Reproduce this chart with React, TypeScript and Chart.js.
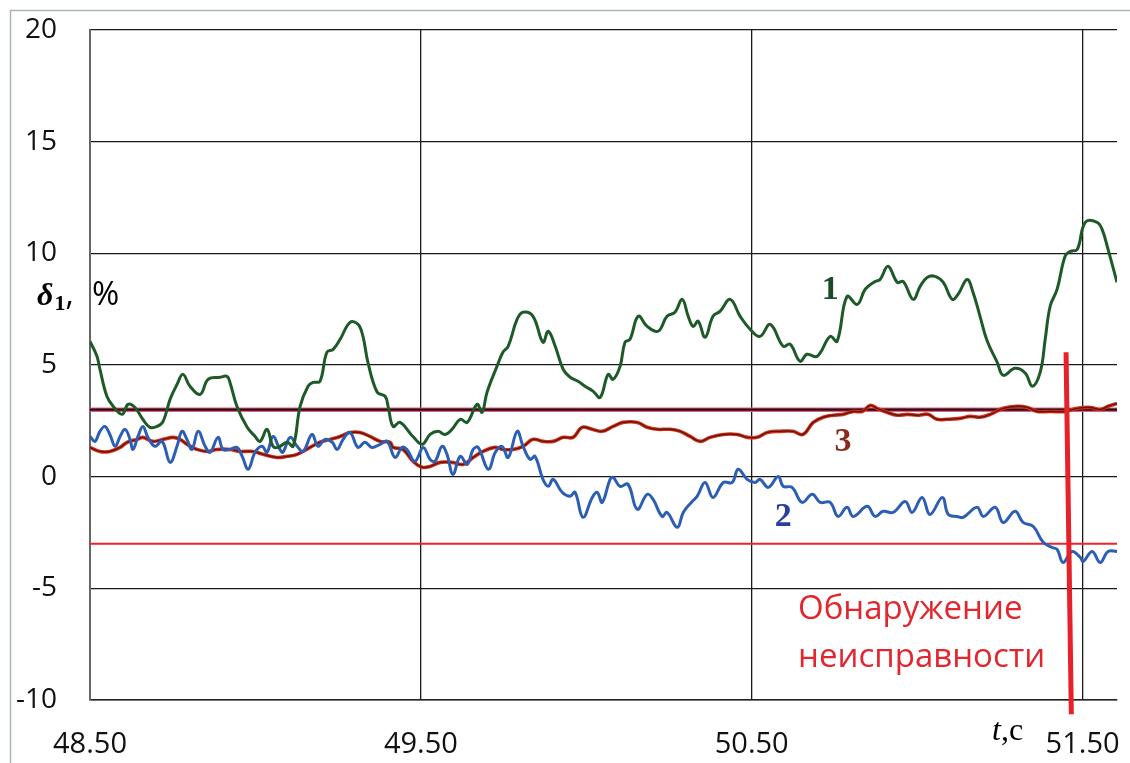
import React, { useEffect, useRef } from "react";
import { Chart, registerables } from "chart.js";
Chart.register(...registerables);

// ---- axes ----
const xMin = 48.5;
const xMax = 51.604;
const yMin = -10;
const yMax = 20;
const yStep = 5;
const xTickValues = [48.5, 49.5, 50.5, 51.5];

// ---- series 1 (green) ----
const s1T = [48.500,48.521,48.530,48.551,48.570,48.597,48.615,48.636,48.660,48.681,48.703,48.721,48.742,48.763,48.781,48.802,48.833,48.857,48.893,48.914,48.923,48.944,48.975,48.999,49.014,49.035,49.053,49.068,49.096,49.114,49.135,49.159,49.174,49.195,49.216,49.235,49.256,49.286,49.310,49.325,49.340,49.368,49.392,49.401,49.416,49.437,49.476,49.504,49.528,49.552,49.573,49.594,49.619,49.640,49.670,49.685,49.700,49.730,49.748,49.764,49.791,49.809,49.839,49.869,49.885,49.906,49.930,49.951,49.975,49.996,50.021,50.042,50.066,50.081,50.102,50.117,50.132,50.157,50.184,50.217,50.244,50.268,50.290,50.308,50.323,50.338,50.359,50.383,50.404,50.435,50.465,50.495,50.525,50.556,50.595,50.616,50.646,50.667,50.698,50.737,50.758,50.788,50.819,50.843,50.873,50.888,50.912,50.940,50.958,50.988,51.009,51.030,51.054,51.079,51.106,51.124,51.151,51.169,51.190,51.212,51.242,51.260,51.296,51.327,51.348,51.372,51.387,51.402,51.423,51.447,51.463,51.484,51.508,51.544,51.559,51.577,51.604];
const s1V = [6.06,5.39,4.81,3.60,3.15,2.79,3.24,3.10,2.56,2.21,2.25,2.48,3.46,4.13,4.58,4.05,3.69,4.36,4.45,4.49,4.22,3.15,2.21,1.80,1.58,2.12,1.36,1.31,1.54,1.36,3.15,4.05,4.22,4.27,5.57,5.70,6.15,6.91,6.82,6.28,5.12,3.78,3.60,3.15,2.25,2.43,1.80,1.45,1.89,2.03,1.89,2.12,2.57,2.43,3.24,2.88,3.78,4.94,5.57,5.84,7.05,7.36,7.18,6.02,6.51,5.84,4.81,4.45,4.27,4.05,3.82,3.55,4.58,4.36,4.94,6.02,6.15,7.18,6.73,6.51,7.18,7.36,7.94,7.18,6.73,6.96,6.24,7.18,7.40,7.94,7.18,6.60,6.28,6.82,5.84,5.93,5.17,5.48,5.39,6.28,6.06,8.07,7.71,8.39,8.74,8.83,9.42,8.70,8.74,7.94,8.52,8.92,8.97,8.70,7.94,8.17,8.83,8.25,7.18,6.06,5.12,4.54,4.85,4.63,4.05,4.68,6.15,7.63,8.39,9.87,10.09,10.18,11.39,11.39,11.07,10.18,8.70];

// ---- series 2 (blue) ----
const s2T = [48.500,48.515,48.530,48.545,48.560,48.576,48.591,48.606,48.621,48.630,48.645,48.660,48.675,48.696,48.718,48.742,48.763,48.778,48.793,48.808,48.827,48.848,48.863,48.887,48.902,48.923,48.944,48.960,48.978,48.999,49.020,49.035,49.053,49.074,49.083,49.105,49.126,49.144,49.171,49.189,49.210,49.232,49.247,49.265,49.286,49.310,49.331,49.352,49.377,49.398,49.422,49.443,49.458,49.482,49.507,49.528,49.543,49.564,49.579,49.597,49.619,49.640,49.658,49.673,49.704,49.725,49.745,49.764,49.791,49.809,49.830,49.845,49.869,49.885,49.900,49.927,49.951,49.966,49.990,50.018,50.033,50.048,50.072,50.081,50.102,50.126,50.154,50.184,50.202,50.229,50.244,50.275,50.293,50.320,50.335,50.359,50.383,50.414,50.441,50.459,50.486,50.510,50.525,50.550,50.580,50.595,50.622,50.652,50.683,50.707,50.737,50.761,50.788,50.807,50.849,50.873,50.897,50.927,50.964,50.985,51.015,51.039,51.076,51.094,51.121,51.139,51.181,51.200,51.236,51.260,51.296,51.320,51.351,51.381,51.408,51.423,51.441,51.468,51.493,51.502,51.529,51.553,51.577,51.604];
const s2V = [1.80,1.58,2.03,2.25,1.89,1.36,1.80,2.12,1.67,1.22,1.80,2.25,1.76,1.36,1.58,0.64,1.36,2.03,1.67,1.22,2.03,1.36,1.09,1.76,1.22,1.22,1.31,0.91,0.33,1.09,1.36,1.09,1.80,1.22,1.09,1.76,1.36,1.13,1.89,1.36,1.67,1.54,1.22,1.67,1.98,1.31,1.54,1.31,1.45,1.58,0.86,1.31,1.22,0.69,1.31,0.77,0.69,1.36,1.00,0.10,0.91,0.55,1.22,1.31,0.33,1.09,1.36,0.86,2.03,1.36,0.77,0.91,-0.12,-0.43,-0.12,-0.70,-0.88,-0.70,-1.82,-0.93,-0.70,-1.15,-0.12,-0.03,-0.43,-0.34,-1.46,-0.79,-1.02,-1.78,-1.60,-2.27,-1.60,-1.11,-0.88,-0.26,-0.93,-0.26,-0.26,0.33,-0.12,-0.26,-0.12,-0.48,0.01,-0.43,-0.48,-1.15,-0.79,-1.15,-1.15,-1.78,-1.37,-1.78,-1.33,-1.78,-1.55,-1.60,-1.11,-1.60,-0.93,-1.69,-0.93,-1.69,-1.78,-1.82,-1.37,-1.78,-1.37,-2.05,-1.55,-2.05,-2.23,-2.94,-3.17,-3.26,-3.84,-3.35,-3.61,-3.79,-3.35,-3.84,-3.35,-3.35];

// ---- series 3 (brown) ----
const s3T = [48.500,48.530,48.560,48.591,48.612,48.642,48.660,48.690,48.721,48.751,48.772,48.793,48.823,48.854,48.884,48.923,48.953,48.993,49.023,49.065,49.096,49.126,49.165,49.195,49.226,49.256,49.286,49.316,49.346,49.377,49.407,49.416,49.446,49.476,49.504,49.528,49.558,49.594,49.628,49.658,49.688,49.724,49.748,49.779,49.809,49.839,49.869,49.900,49.930,49.960,49.987,50.018,50.048,50.081,50.111,50.154,50.184,50.214,50.253,50.284,50.314,50.344,50.374,50.414,50.456,50.486,50.516,50.547,50.586,50.625,50.655,50.686,50.716,50.746,50.776,50.807,50.834,50.858,50.879,50.909,50.940,50.970,51.000,51.033,51.060,51.091,51.130,51.160,51.190,51.221,51.260,51.302,51.333,51.363,51.402,51.447,51.484,51.523,51.553,51.577,51.604];
const s3V = [1.31,1.13,1.13,1.31,1.54,1.67,1.76,1.58,1.67,1.76,1.67,1.45,1.22,1.13,1.22,1.22,1.13,1.13,1.00,0.86,0.91,1.00,1.31,1.54,1.67,1.80,1.98,1.98,1.80,1.58,1.54,1.31,1.22,0.69,0.42,0.46,0.64,0.64,0.55,0.86,1.13,1.31,1.22,1.22,1.36,1.67,1.58,1.58,1.76,1.76,2.21,2.12,2.03,2.25,2.43,2.43,2.21,2.12,2.12,2.03,1.80,1.58,1.76,1.89,1.89,1.76,1.76,1.98,2.03,2.03,1.89,2.43,2.66,2.75,2.79,2.92,2.92,3.19,3.06,2.88,2.75,2.79,2.75,2.79,2.57,2.57,2.61,2.70,2.66,2.79,3.06,3.15,3.10,2.92,2.92,2.92,3.06,3.10,3.01,3.15,3.28];

// ---- thresholds and fault marker ----
const upperThreshold = 3;
const lowerThreshold = -3;
const faultT = [51.450, 51.466];
const faultV = [5.57, -10.64];
const faultText = ["Обнаружение", "неисправности"];
const curveLabels = ["1", "2", "3"];
const curveLabelT = [50.737, 50.595, 50.776];
const curveLabelV = [8.34, -1.83, 1.54];

const pts = (t: number[], v: number[]) => t.map((x, i) => ({ x, y: v[i] }));

const SANS = '"Open Sans", "Noto Sans", sans-serif';
const SERIF = '"Liberation Serif", "DejaVu Serif", serif';

const decor = {
  id: "decor",
  beforeDraw(chart: any) {
    const { ctx, width, height } = chart;
    ctx.save();
    ctx.fillStyle = "#ffffff";
    ctx.fillRect(0, 0, width, height);
    ctx.strokeStyle = "#a9b6ba";
    ctx.lineWidth = 1.5;
    ctx.beginPath();
    ctx.moveTo(10.5, height);
    ctx.lineTo(10.5, 10.5);
    ctx.lineTo(width, 10.5);
    ctx.stroke();
    ctx.restore();
  },
  afterDatasetsDraw(chart: any) {
    const { ctx, chartArea } = chart;
    const xs = chart.scales.x;
    const ys = chart.scales.y;
    ctx.save();
    // curve numbers
    const colors = ["#1d4a28", "#2a3f9a", "#8b2a1e"];
    ctx.font = `bold 34px ${SERIF}`;
    ctx.textAlign = "center";
    ctx.textBaseline = "middle";
    curveLabels.forEach((s, i) => {
      ctx.fillStyle = colors[i];
      ctx.fillText(s, xs.getPixelForValue(curveLabelT[i]), ys.getPixelForValue(curveLabelV[i]));
    });
    // fault text
    ctx.fillStyle = "#e3262e";
    ctx.font = `33px ${SANS}`;
    ctx.textAlign = "left";
    ctx.textBaseline = "alphabetic";
    const fx = xs.getPixelForValue(50.64);
    ctx.fillText(faultText[0], fx, ys.getPixelForValue(-6.39));
    ctx.fillText(faultText[1], fx, ys.getPixelForValue(-8.5));
    // y axis title: δ1, %
    ctx.fillStyle = "#000";
    let x = chartArea.left - 53;
    const base = chartArea.top + 275;
    ctx.font = `bold italic 32px ${SERIF}`;
    ctx.fillText("δ", x, base);
    x += ctx.measureText("δ").width + 1;
    ctx.font = `bold 22px ${SERIF}`;
    ctx.fillText("1", x, base + 5);
    x += ctx.measureText("1").width;
    ctx.font = `32px ${SANS}`;
    ctx.fillText(",", x, base);
    ctx.font = `33px ${SANS}`;
    ctx.fillText("%", chartArea.left + 2, base);
    // x axis title: t,c
    let tx = chartArea.right - 125;
    const tb = chartArea.bottom + 40;
    ctx.font = `italic 32px ${SERIF}`;
    ctx.fillText("t", tx, tb);
    tx += ctx.measureText("t").width;
    ctx.font = `32px ${SERIF}`;
    ctx.fillText(",с", tx, tb);
    ctx.restore();
  },
};

export default function App() {
  const ref = useRef<HTMLCanvasElement | null>(null);
  useEffect(() => {
    if (!ref.current) return;
    const hLine = (v: number) => [
      { x: xMin, y: v },
      { x: xMax, y: v },
    ];
    const chart = new Chart(ref.current, {
      type: "line",
      data: {
        datasets: [
          { data: pts(faultT, faultV), borderColor: "#e8202a", borderWidth: 5, tension: 0, clip: false as any, order: 0 },
          { data: pts(s1T, s1V), borderColor: "#1d5a28", borderWidth: 3, order: 1 },
          { data: pts(s2T, s2V), borderColor: "#2c5fb4", borderWidth: 3, order: 2 },
          { data: pts(s3T, s3V), borderColor: "#5a1a0a", borderWidth: 1.4, order: 3 },
          { data: pts(s3T, s3V), borderColor: "#dd2c1c", borderWidth: 3.6, order: 4 },
          { data: hLine(upperThreshold), borderColor: "#2a0810", borderWidth: 2.2, tension: 0, order: 5 },
          { data: hLine(upperThreshold), borderColor: "#e0607f", borderWidth: 4.5, tension: 0, order: 6 },
          { data: hLine(lowerThreshold), borderColor: "#f0202a", borderWidth: 2, tension: 0, order: 7 },
        ] as any,
      },
      options: {
        animation: false,
        responsive: false,
        devicePixelRatio: 1,
        parsing: false as any,
        elements: { point: { radius: 0 }, line: { tension: 0.4, fill: false, capBezierPoints: true } },
        layout: { padding: { top: 30, right: 13, left: 0, bottom: 0 } },
        plugins: { legend: { display: false }, tooltip: { enabled: false } },
        scales: {
          x: {
            type: "linear",
            min: xMin,
            max: xMax,
            afterBuildTicks: (s: any) => {
              s.ticks = xTickValues.map((v) => ({ value: v }));
            },
            afterFit: (s: any) => {
              s.height = 63;
              s.paddingLeft = 0;
              s.paddingRight = 0;
            },
            ticks: {
              callback: (v: any) => Number(v).toFixed(2),
              font: { family: SANS, size: 29 },
              color: "#111",
              padding: 27,
              maxRotation: 0,
              autoSkip: false,
            },
            grid: { color: "#1a1a1a", lineWidth: 1.3, drawTicks: false },
            border: { display: true, color: "#222", width: 1.5 },
          },
          y: {
            min: yMin,
            max: yMax,
            afterFit: (s: any) => {
              s.width = 90;
              s.paddingTop = 0;
              s.paddingBottom = 0;
            },
            ticks: {
              stepSize: yStep,
              font: { family: SANS, size: 28 },
              color: "#111",
              padding: 33,
            },
            grid: { color: "#1a1a1a", lineWidth: 1.3, drawTicks: false },
            border: { display: true, color: "#666", width: 2 },
          },
        },
      },
      plugins: [decor],
    });
    return () => chart.destroy();
  }, []);
  return (
    <div style={{ position: "absolute", left: 0, top: 0, width: 1130, height: 763 }}>
      <canvas ref={ref} width={1130} height={763} style={{ display: "block" }} />
    </div>
  );
}
